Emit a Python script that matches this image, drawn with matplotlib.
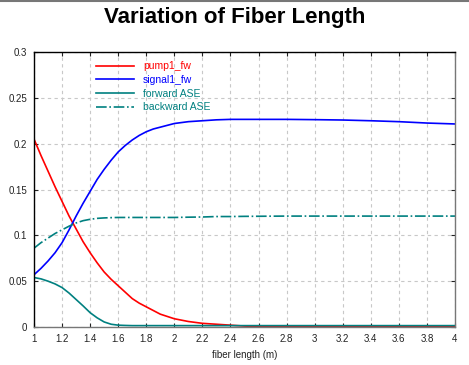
import matplotlib
matplotlib.use("Agg")
import matplotlib.pyplot as plt
from matplotlib.lines import Line2D

plt.rcParams['font.family'] = ['Liberation Sans', 'DejaVu Sans']

title = "Variation of Fiber Length"
xlabel = "fiber length (m)"

x = [1.0, 1.05, 1.1, 1.15, 1.2, 1.25, 1.3, 1.35, 1.4, 1.45, 1.5, 1.55, 1.6, 1.65, 1.7,
     1.75, 1.8, 1.85, 1.9, 2.0, 2.1, 2.2, 2.3, 2.4, 2.5, 2.6, 2.8, 3.0, 3.2, 3.4, 3.6,
     3.8, 4.0]
pump1_fw = [0.205, 0.187, 0.170, 0.153, 0.137, 0.121, 0.107, 0.093, 0.081, 0.070, 0.060,
            0.052, 0.045, 0.038, 0.031, 0.026, 0.022, 0.018, 0.014, 0.009, 0.006, 0.004,
            0.003, 0.002, 0.001, 0.0005, 0.0003, 0.0002, 0.0002, 0.0002, 0.0002, 0.0002,
            0.0002]
signal1_fw = [0.057, 0.064, 0.072, 0.081, 0.092, 0.106, 0.121, 0.135, 0.148, 0.161, 0.172,
              0.182, 0.191, 0.198, 0.204, 0.209, 0.213, 0.216, 0.218, 0.222, 0.224, 0.225,
              0.226, 0.2265, 0.2265, 0.2265, 0.2265, 0.2262, 0.2258, 0.225, 0.224, 0.2225,
              0.2215]
forward_ase = [0.054, 0.0525, 0.050, 0.047, 0.043, 0.037, 0.030, 0.023, 0.0156, 0.010,
               0.0055, 0.003, 0.002, 0.0017, 0.0015, 0.0015, 0.0015, 0.0015, 0.0015, 0.0015,
               0.0015, 0.0015, 0.0015, 0.0015, 0.0015, 0.0015, 0.0015, 0.0015, 0.0015,
               0.0015, 0.0015, 0.0015, 0.0015]
backward_ase = [0.086, 0.092, 0.097, 0.102, 0.106, 0.110, 0.1135, 0.116, 0.1175, 0.1185,
                0.119, 0.1193, 0.1195, 0.1195, 0.1195, 0.1195, 0.1195, 0.1195, 0.1195,
                0.1195, 0.1198, 0.120, 0.1205, 0.1205, 0.1207, 0.1208, 0.121, 0.121, 0.121,
                0.121, 0.121, 0.121, 0.121]

labels = ["pump1_fw", "signal1_fw", "forward ASE", "backward ASE"]
colors = ["#ff0000", "#0000ff", "#008080", "#008080"]
styles = ["-", "-", "-", "-."]

xticks = [1, 1.2, 1.4, 1.6, 1.8, 2, 2.2, 2.4, 2.6, 2.8, 3, 3.2, 3.4, 3.6, 3.8, 4]
xticklabels = ["1", "1.2", "1.4", "1.6", "1.8", "2", "2.2", "2.4", "2.6", "2.8", "3",
               "3.2", "3.4", "3.6", "3.8", "4"]
yticks = [0, 0.05, 0.1, 0.15, 0.2, 0.25, 0.3]
yticklabels = ["0", "0.05", "0.1", "0.15", "0.2", "0.25", "0.3"]

fig = plt.figure(figsize=(4.69, 3.65), dpi=100)
ax = fig.add_axes([34 / 469, 1 - 327 / 365, (455 - 34) / 469, (327 - 52) / 365])

series = [pump1_fw, signal1_fw, forward_ase, backward_ase]
for s, lab, c, ls in zip(series, labels, colors, styles):
    ax.plot(x, s, color=c, linestyle=ls, linewidth=1.2, label=lab)

ax.set_xlim(1, 4)
ax.set_ylim(0, 0.3)
ax.set_xticks(xticks)
ax.set_xticklabels(xticklabels)
ax.set_yticks(yticks)
ax.set_yticklabels(yticklabels)
ax.tick_params(direction='in', length=3, labelsize=7, top=True, right=True, pad=5,
               colors='#222222')
ax.grid(True, linestyle=(0, (3, 3)), color='#c8c8c8', linewidth=0.8)
ax.set_axisbelow(True)
for side in ['left', 'top']:
    ax.spines[side].set_color('#000000')
for side in ['right', 'bottom']:
    ax.spines[side].set_color('#777777')
for sp in ax.spines.values():
    sp.set_linewidth(1.0)

ax.set_xlabel(xlabel, fontsize=7, labelpad=4, color='#222222')

leg = ax.legend(loc='upper left', bbox_to_anchor=(0.125, 1.0), frameon=False,
                fontsize=7.5, handlelength=3.6, handletextpad=0.9, labelspacing=0.35,
                borderaxespad=0.5)
for t, c in zip(leg.get_texts(), colors):
    t.set_color(c)

fig.text(0.5, 1 - 18 / 365, title, ha='center', va='center', fontsize=16,
         fontweight='bold', color='#000000')

fig.add_artist(Line2D([0, 1], [1 - 0.5 / 365, 1 - 0.5 / 365], color='#777777',
                      linewidth=1.5, transform=fig.transFigure))

fig.savefig("out.png", dpi=100)
